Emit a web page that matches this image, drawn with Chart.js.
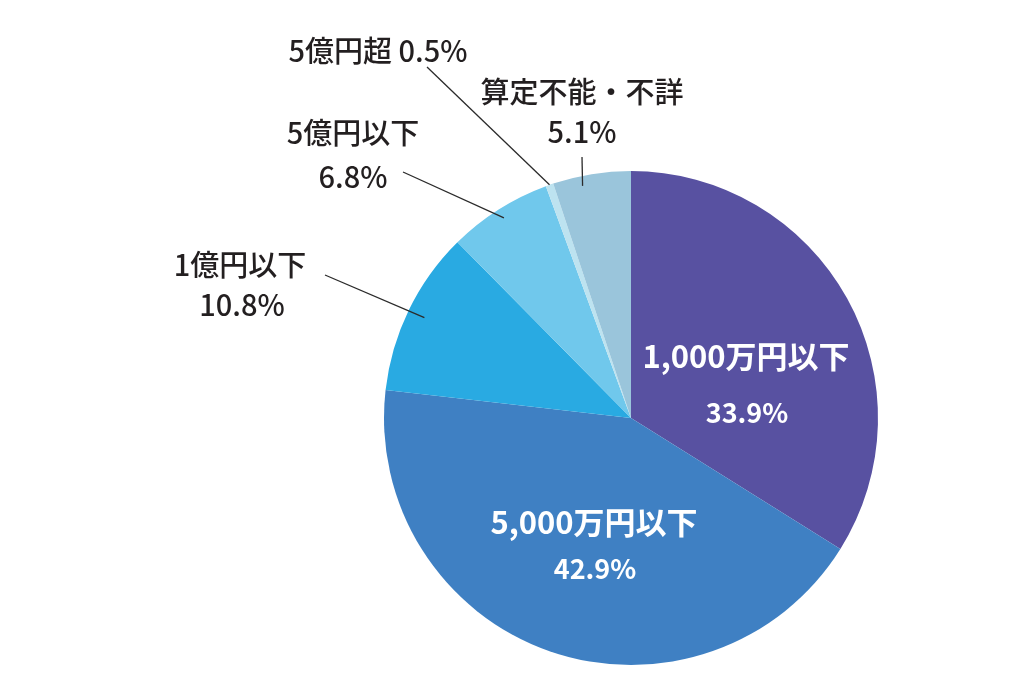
<!DOCTYPE html>
<html lang="ja">
<head>
<meta charset="utf-8">
<title>資本金階級別構成比</title>
<script src="https://cdn.jsdelivr.net/npm/chart.js@4"></script>
<style>
  html, body { margin: 0; padding: 0; background: #fff; }
  #wrap { width: 1024px; height: 683px; position: relative; }
</style>
</head>
<body>
<div id="wrap"><canvas id="pieChart"></canvas></div>
<script>
// data, clockwise from 12 o'clock
const categories = ['1,000万円以下', '5,000万円以下', '1億円以下', '5億円以下', '5億円超', '算定不能・不詳'];
const shares = [33.9, 42.9, 10.8, 6.8, 0.5, 5.1];
const sliceColors = ['#5851a1', '#3f80c3', '#29aae2', '#70c8ec', '#bde3f0', '#9ac5db'];

// where each label sits (layout only)
const labelLayout = [
  { inside: true, lines: [[746, 356, 31], [747, 413, 27]] },
  { inside: true, lines: [[594, 522, 31], [595, 569, 27]] },
  { lines: [[240, 265, 29], [242, 305, 29]], from: [325, 275], r: 0.93 },
  { lines: [[353, 133, 29], [353, 177, 29]], from: [403, 172], r: 0.96 },
  { lines: [[378, 51, 29]], from: [427, 67], r: 1.0 },
  { lines: [[582, 92, 29], [582, 132, 29]], from: [582, 157], r: 0.96, shift: -2.6 }
];

const FONT = '"Noto Sans CJK JP", "Noto Sans", sans-serif';

const labelPlugin = {
  id: 'sliceLabels',
  afterDatasetsDraw(chart) {
    const c = chart.ctx;
    const arcs = chart.getDatasetMeta(0).data;
    c.save();
    c.textAlign = 'center';
    c.textBaseline = 'middle';
    arcs.forEach((arc, i) => {
      const lay = labelLayout[i];
      const pct = shares[i].toFixed(1) + '%';
      let texts;
      if (lay.lines.length === 1) texts = [categories[i] + ' ' + pct];
      else texts = [categories[i], pct];

      if (lay.from) {
        const p = arc.getProps(['x', 'y', 'startAngle', 'endAngle', 'outerRadius'], true);
        const mid = (p.startAngle + p.endAngle) / 2 + (lay.shift || 0) * Math.PI / 180;
        const ex = p.x + Math.cos(mid) * p.outerRadius * lay.r;
        const ey = p.y + Math.sin(mid) * p.outerRadius * lay.r;
        c.strokeStyle = '#2b2b2b';
        c.lineWidth = 1.3;
        c.beginPath();
        c.moveTo(lay.from[0], lay.from[1]);
        c.lineTo(ex, ey);
        c.stroke();
      }

      c.fillStyle = lay.inside ? '#ffffff' : '#231f20';
      texts.forEach((t, k) => {
        const [x, y, size] = lay.lines[k];
        c.font = (lay.inside ? '700 ' : '500 ') + size + 'px ' + FONT;
        c.fillText(t, x, y);
      });
    });
    c.restore();
  }
};

new Chart(document.getElementById('pieChart'), {
  type: 'pie',
  data: {
    labels: categories,
    datasets: [{
      data: shares,
      backgroundColor: sliceColors,
      borderWidth: 0
    }]
  },
  options: {
    responsive: true,
    maintainAspectRatio: false,
    animation: false,
    layout: {
      padding: { left: 384, right: 146, top: 171, bottom: 18 }
    },
    plugins: {
      legend: { display: false },
      tooltip: { enabled: false }
    }
  },
  plugins: [labelPlugin]
});
</script>
</body>
</html>
